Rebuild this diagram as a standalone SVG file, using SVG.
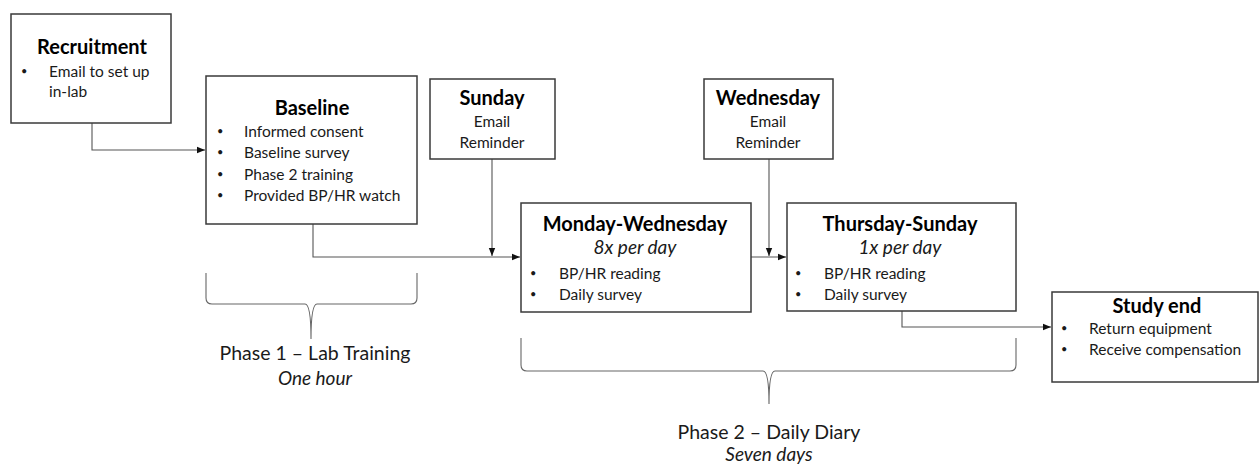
<svg xmlns="http://www.w3.org/2000/svg" width="1260" height="464" viewBox="0 0 1260 464">
<defs>
<marker id="arr" viewBox="0 0 10 10" refX="10" refY="5" markerWidth="8" markerHeight="8" markerUnits="userSpaceOnUse" orient="auto">
<path d="M0,1 L10,5 L0,9 Z" fill="#111"/>
</marker>
<style>
.box{fill:#fff;stroke:#3a3a3a;stroke-width:1.5}
.t{font-family:Lato,"Open Sans",sans-serif;font-weight:bold;font-size:20px;fill:#000;text-anchor:middle}
.b{font-family:Lato,"Open Sans",sans-serif;font-size:15.5px;fill:#1a1a1a}
.d{font-family:Lato,"Open Sans",sans-serif;font-size:11px;fill:#1a1a1a}
.c{font-family:Lato,"Open Sans",sans-serif;font-size:15.5px;fill:#1a1a1a;text-anchor:middle}
.i{font-family:Lato,"Open Sans",sans-serif;font-style:italic;font-size:19px;fill:#1a1a1a;text-anchor:middle}
.p{font-family:Lato,"Open Sans",sans-serif;font-size:19.5px;fill:#1a1a1a;text-anchor:middle}
.ln{fill:none;stroke:#555;stroke-width:1.1}
.br{fill:none;stroke:#666;stroke-width:1.1}
</style>
</defs>
<rect width="1260" height="464" fill="#fff"/>

<g id="connectors">
<path class="ln" d="M92,123 V150 H205" marker-end="url(#arr)"/>
<path class="ln" d="M313,224 V257 H520" marker-end="url(#arr)"/>
<path class="ln" d="M492,159 V256" marker-end="url(#arr)"/>
<path class="ln" d="M751,257 H786" marker-end="url(#arr)"/>
<path class="ln" d="M769,159 V256" marker-end="url(#arr)"/>
<path class="ln" d="M902,311 V327 H1051" marker-end="url(#arr)"/>
</g>

<g id="recruitment">
<rect class="box" x="11" y="14" width="160" height="109"/>
<text class="t" x="92" y="54">Recruitment</text>
<text class="d" x="21" y="75">•</text>
<text class="b" x="49" y="77">Email to set up</text>
<text class="b" x="49" y="97">in-lab</text>
</g>

<g id="baseline">
<rect class="box" x="206" y="76" width="211" height="148"/>
<text class="t" x="312" y="115">Baseline</text>
<text class="d" x="217" y="135">•</text><text class="b" x="244" y="137">Informed consent</text>
<text class="d" x="217" y="156">•</text><text class="b" x="244" y="158">Baseline survey</text>
<text class="d" x="217" y="178">•</text><text class="b" x="244" y="180">Phase 2 training</text>
<text class="d" x="217" y="199">•</text><text class="b" x="244" y="201">Provided BP/HR watch</text>
</g>

<g id="sunday">
<rect class="box" x="430" y="79" width="125" height="80"/>
<text class="t" x="492" y="105">Sunday</text>
<text class="c" x="492" y="127">Email</text>
<text class="c" x="492" y="148">Reminder</text>
</g>

<g id="wednesday">
<rect class="box" x="704" y="79" width="129" height="80"/>
<text class="t" x="768" y="105">Wednesday</text>
<text class="c" x="768" y="127">Email</text>
<text class="c" x="768" y="148">Reminder</text>
</g>

<g id="monday-wednesday">
<rect class="box" x="521" y="203" width="230" height="109"/>
<text class="t" x="635" y="231">Monday-Wednesday</text>
<text class="i" x="635" y="254">8x per day</text>
<text class="d" x="530" y="277">•</text><text class="b" x="559" y="279">BP/HR reading</text>
<text class="d" x="530" y="298">•</text><text class="b" x="559" y="300">Daily survey</text>
</g>

<g id="thursday-sunday">
<rect class="box" x="787" y="203" width="229" height="108"/>
<text class="t" x="900" y="231">Thursday-Sunday</text>
<text class="i" x="900" y="254">1x per day</text>
<text class="d" x="795" y="277">•</text><text class="b" x="824" y="279">BP/HR reading</text>
<text class="d" x="795" y="298">•</text><text class="b" x="824" y="300">Daily survey</text>
</g>

<g id="study-end">
<rect class="box" x="1052" y="292" width="206" height="90"/>
<text class="t" x="1157" y="313">Study end</text>
<text class="d" x="1061" y="332">•</text><text class="b" x="1089" y="334">Return equipment</text>
<text class="d" x="1061" y="353">•</text><text class="b" x="1089" y="355">Receive compensation</text>
</g>

<g id="phase1">
<path class="br" d="M206,273 V298 Q206,304 212,304 H305 Q311,304 311,339 Q311,304 317,304 H411 Q417,304 417,298 V273"/>
<text class="p" x="315" y="360">Phase 1 – Lab Training</text>
<text class="i" x="315" y="385">One hour</text>
</g>

<g id="phase2">
<path class="br" d="M521,338 V365 Q521,371 527,371 H763 Q769,371 769,404 Q769,371 775,371 H1010 Q1016,371 1016,365 V338"/>
<text class="p" x="769" y="439">Phase 2 – Daily Diary</text>
<text class="i" x="769" y="461">Seven days</text>
</g>
</svg>
